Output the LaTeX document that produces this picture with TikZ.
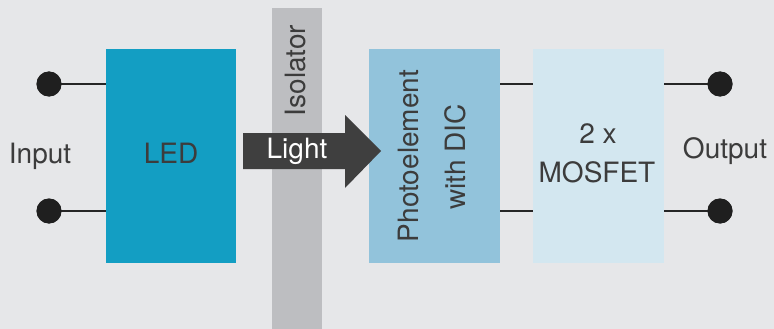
\documentclass[tikz,border=0pt]{standalone}
\usepackage{fontspec}
\setmainfont{TeX Gyre Heros}
\definecolor{bg}{HTML}{E6E7E9}
\definecolor{ledc}{HTML}{139EC3}
\definecolor{photoc}{HTML}{92C3DB}
\definecolor{mosc}{HTML}{D3E7F0}
\definecolor{isoc}{HTML}{BDBEC1}
\definecolor{arrc}{HTML}{3F3F3F}
\definecolor{txt}{HTML}{3C3C3C}
\begin{document}
\begin{tikzpicture}[x=1pt,y=-1pt,
  lbl/.style={font=\fontsize{28}{34}\selectfont, text=txt, inner sep=0pt, anchor=base},
  block/.style={inner sep=0pt, anchor=north west},
  term/.style={circle, fill=black!88, minimum size=25pt, inner sep=0pt},
  wire/.style={line width=1.4pt, black!85}]
\useasboundingbox (0,0) rectangle (774,329);
\fill[bg] (0,0) rectangle (774,329);
% isolator bar
\node[block, fill=isoc, minimum width=50pt, minimum height=321pt] (iso) at (272,8) {};
\node[lbl, rotate=90] (isot) at (305,70.5) {Isolator};
% blocks
\node[block, fill=ledc, minimum width=130pt, minimum height=214pt] (led) at (106,49) {};
\node[block, fill=photoc, minimum width=131pt, minimum height=214pt] (photo) at (369,49) {};
\node[block, fill=mosc, minimum width=131pt, minimum height=214pt] (mos) at (533,49) {};
% terminals
\node[term] (in1) at (49,84) {};
\node[term] (in2) at (49,211) {};
\node[term] (out1) at (720,84) {};
\node[term] (out2) at (720,211) {};
\coordinate (led1) at (106,84);
\coordinate (led2) at (106,211);
\coordinate (ph1) at (500,84);
\coordinate (ph2) at (500,211);
\coordinate (m1) at (533,84);
\coordinate (m2) at (533,211);
\coordinate (mo1) at (664,84);
\coordinate (mo2) at (664,211);
\begin{scope}[on background layer/.style={}]
\draw[wire] (in1.center) -- (led1);
\draw[wire] (in2.center) -- (led2);
\draw[wire] (ph1) -- (m1);
\draw[wire] (ph2) -- (m2);
\draw[wire] (mo1) -- (out1.center);
\draw[wire] (mo2) -- (out2.center);
\end{scope}
\node[term] at (in1) {};
\node[term] at (in2) {};
\node[term] at (out1) {};
\node[term] at (out2) {};
% arrow
\fill[arrc] (243,133) -- (345,133) -- (345,115) -- (381,151) -- (345,188) -- (345,169) -- (243,169) -- cycle;
\node[lbl, text=white] (light) at (297,158) {Light};
% labels
\node[lbl] (input) at (40,163) {Input};
\node[lbl] (ledt) at (171,163) {LED};
\node[lbl, rotate=90] (pht1) at (418,156) {Photoelement};
\node[lbl, rotate=90] (pht2) at (465,157) {with DIC};
\node[lbl] (mt1) at (598,143) {2 x};
\node[lbl] (mt2) at (597,182) {MOSFET};
\node[lbl] (output) at (725,158) {Output};
\end{tikzpicture}
\end{document}
